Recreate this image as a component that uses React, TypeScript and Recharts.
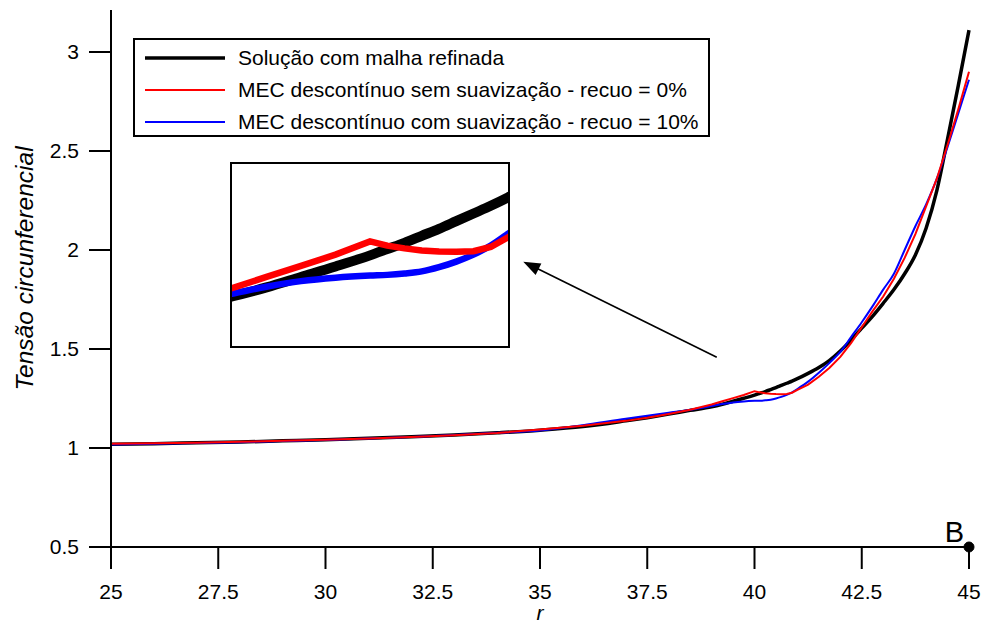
import React from 'react';
import { LineChart, Line, XAxis, YAxis, ReferenceDot, ReferenceLine, Legend } from 'recharts';

// ---------------- data ----------------
const rValues = [
  25, 26, 27, 28, 29, 30, 31, 32, 33, 34, 35, 36, 37, 37.5, 38, 38.5,
  39, 39.25, 39.5, 39.75, 40, 40.125, 40.25, 40.375, 40.5, 40.625, 40.75, 40.875, 41, 41.25, 41.5, 41.75,
  42, 42.25, 42.5, 42.75, 43, 43.25, 43.5, 43.75, 44, 44.25, 44.5, 44.75, 45,
];

const solucaoRefinada = [
  1.019, 1.022, 1.026, 1.030, 1.036, 1.042, 1.049, 1.057, 1.066, 1.077, 1.090, 1.108, 1.137, 1.153, 1.171, 1.190,
  1.208, 1.221, 1.236, 1.251, 1.267, 1.276, 1.285, 1.295, 1.305, 1.316, 1.327, 1.338, 1.350, 1.377, 1.407, 1.443,
  1.490, 1.545, 1.605, 1.665, 1.731, 1.800, 1.880, 1.975, 2.110, 2.300, 2.560, 2.830, 3.110,
];

const semSuavizacao = [
  1.022, 1.024, 1.027, 1.031, 1.036, 1.042, 1.048, 1.055, 1.064, 1.076, 1.093, 1.112, 1.137, 1.153, 1.172, 1.193,
  1.220, 1.236, 1.252, 1.268, 1.287, 1.281, 1.277, 1.274, 1.2725, 1.272, 1.273, 1.279, 1.293, 1.320, 1.360, 1.405,
  1.460, 1.530, 1.610, 1.690, 1.765, 1.855, 1.960, 2.080, 2.220, 2.360, 2.530, 2.710, 2.900,
];

const comSuavizacao = [
  1.018, 1.021, 1.025, 1.029, 1.035, 1.041, 1.048, 1.056, 1.066, 1.077, 1.088, 1.115, 1.148, 1.163, 1.178, 1.193,
  1.212, 1.222, 1.230, 1.235, 1.238, 1.239, 1.241, 1.244, 1.250, 1.258, 1.268, 1.281, 1.298, 1.335, 1.380, 1.430,
  1.485, 1.560, 1.635, 1.715, 1.800, 1.880, 2.000, 2.120, 2.230, 2.360, 2.520, 2.690, 2.860,
];

const xTicks = [25, 27.5, 30, 32.5, 35, 37.5, 40, 42.5, 45];
const yTicks = [0.5, 1, 1.5, 2, 2.5, 3];

const xDomain: [number, number] = [25, 45];
const yDomain: [number, number] = [0.5, 3.212];

// zoomed inset window (data coordinates)
const insetXDomain: [number, number] = [39, 41];
const insetYDomain: [number, number] = [1.137, 1.398];

// annotation positions (data coordinates)
const arrowFrom = { r: 39.12, v: 1.458 };
const arrowTo = { r: 34.61, v: 1.941 };
const pointB = { r: 45, v: 0.5, label: 'B' };

const xLabel = 'r';
const yLabel = 'Tensão circunferencial';

const data = rValues.map((r, i) => ({
  r,
  refinada: solucaoRefinada[i],
  sem: semSuavizacao[i],
  com: comSuavizacao[i],
}));

const seriesInfo = [
  { key: 'refinada', name: 'Solução com malha refinada', color: '#000000', width: 3.5, insetWidth: 10, type: 'monotone' },
  { key: 'sem', name: 'MEC descontínuo sem suavização - recuo = 0%', color: '#ff0000', width: 2, insetWidth: 6.5, type: 'linear' },
  { key: 'com', name: 'MEC descontínuo com suavização - recuo = 10%', color: '#0000ff', width: 2, insetWidth: 6.5, type: 'monotone' },
];
const drawOrder = ['refinada', 'com', 'sem'];

const FONT = '"Liberation Sans", Arial, Helvetica, sans-serif';
const FS = 21;

const renderLegend = () => (
  <div
    style={{
      boxSizing: 'border-box',
      width: 577,
      height: 99,
      border: '2px solid #000',
      background: '#fff',
      fontFamily: FONT,
      fontSize: FS,
      color: '#000',
      paddingTop: 2,
    }}
  >
    {seriesInfo.map((s) => (
      <div key={s.key} style={{ height: 32, display: 'flex', alignItems: 'center' }}>
        <svg width={103} height={32} style={{ flex: 'none' }}>
          <line x1={10} x2={90} y1={16} y2={16} stroke={s.color} strokeWidth={s.key === 'refinada' ? 3.5 : 2} />
        </svg>
        <span style={{ whiteSpace: 'nowrap', lineHeight: '32px' }}>{s.name}</span>
      </div>
    ))}
  </div>
);

const arrowShape = (props: any) => {
  const { x1, y1, x2, y2 } = props;
  const dx = x2 - x1;
  const dy = y2 - y1;
  const len = Math.sqrt(dx * dx + dy * dy) || 1;
  const ux = dx / len;
  const uy = dy / len;
  const headL = 17;
  const headW = 6.5;
  const bx = x2 - ux * headL;
  const by = y2 - uy * headL;
  const p1 = `${x2},${y2}`;
  const p2 = `${bx - uy * headW},${by + ux * headW}`;
  const p3 = `${bx + uy * headW},${by - ux * headW}`;
  return (
    <g>
      <line x1={x1} y1={y1} x2={bx + ux * 2} y2={by + uy * 2} stroke="#000" strokeWidth={1.6} />
      <polygon points={`${p1} ${p2} ${p3}`} fill="#000" />
    </g>
  );
};

const yAxisLabel = (props: any) => {
  const vb = props.viewBox || {};
  const x = vb.x + 22;
  const y = vb.y + vb.height / 2 - 10;
  return (
    <text
      x={x}
      y={y}
      transform={`rotate(-90, ${x}, ${y})`}
      textAnchor="middle"
      fontFamily={FONT}
      fontSize={24.5}
      fontStyle="italic"
      fill="#000"
    >
      {yLabel}
    </text>
  );
};

const xAxisLabel = (props: any) => {
  const vb = props.viewBox || {};
  const x = vb.x + vb.width / 2;
  const y = vb.y + 73;
  return (
    <text x={x} y={y} textAnchor="middle" fontFamily={FONT} fontSize={FS} fontStyle="italic" fill="#000">
      {xLabel}
    </text>
  );
};

const bLabel = (props: any) => {
  const vb = props.viewBox || {};
  const cx = vb.x + vb.width / 2;
  const cy = vb.y + vb.height / 2;
  return (
    <text x={cx - 5} y={cy - 5} textAnchor="end" fontFamily={FONT} fontSize={29} fill="#000">
      {pointB.label}
    </text>
  );
};

const tickStyle = { fill: '#000', fontSize: FS, fontFamily: FONT };

export default function App() {
  return (
    <div style={{ position: 'absolute', left: 0, top: 0, width: 985, height: 628, background: '#fff' }}>
      <LineChart width={985} height={628} data={data} margin={{ top: 10, right: 16, bottom: 21, left: 11 }}>
        <XAxis
          dataKey="r"
          type="number"
          domain={xDomain}
          ticks={xTicks}
          interval={0}
          height={60}
          tickSize={22}
          tickMargin={15}
          axisLine={{ stroke: '#000', strokeWidth: 2 }}
          tickLine={{ stroke: '#000', strokeWidth: 2 }}
          tick={tickStyle}
          label={xAxisLabel}
        />
        <XAxis
          xAxisId="top"
          orientation="top"
          dataKey="r"
          type="number"
          domain={xDomain}
          height={0}
          tick={false}
          tickLine={false}
          axisLine={{ stroke: '#000', strokeWidth: 2 }}
        />
        <YAxis
          type="number"
          domain={yDomain}
          ticks={yTicks}
          interval={0}
          width={100}
          tickSize={22}
          tickMargin={10}
          axisLine={{ stroke: '#000', strokeWidth: 2 }}
          tickLine={{ stroke: '#000', strokeWidth: 2 }}
          tick={tickStyle}
          allowDataOverflow
          label={yAxisLabel}
        />
        <YAxis
          yAxisId="right"
          orientation="right"
          type="number"
          domain={yDomain}
          width={0}
          tick={false}
          tickLine={false}
          axisLine={{ stroke: '#000', strokeWidth: 2 }}
        />
        <Legend
          layout="horizontal"
          verticalAlign="middle"
          align="center"
          wrapperStyle={{ left: 133, top: 38, width: 577, height: 99 }}
          content={renderLegend}
        />
        {drawOrder.map((k) => {
          const s = seriesInfo.find((q) => q.key === k)!;
          return (
            <Line
              key={k}
              dataKey={k}
              name={s.name}
              type={s.type as any}
              stroke={s.color}
              strokeWidth={s.width}
              dot={false}
              activeDot={false}
              isAnimationActive={false}
            />
          );
        })}
        <ReferenceLine
          segment={[
            { x: arrowFrom.r, y: arrowFrom.v },
            { x: arrowTo.r, y: arrowTo.v },
          ]}
          stroke="#000"
          shape={arrowShape}
          ifOverflow="visible"
        />
        <ReferenceDot x={pointB.r} y={pointB.v} r={5} fill="#000" stroke="#000" ifOverflow="visible" label={bLabel} />
      </LineChart>

      <div
        style={{
          position: 'absolute',
          left: 230,
          top: 162,
          width: 276,
          height: 182,
          border: '2.5px solid #000',
          background: '#fff',
        }}
      >
        <LineChart width={276} height={182} data={data} margin={{ top: 0, right: 0, bottom: 0, left: 0 }}>
          <XAxis dataKey="r" type="number" domain={insetXDomain} allowDataOverflow hide />
          <YAxis type="number" domain={insetYDomain} allowDataOverflow hide />
          {drawOrder.map((k) => {
            const s = seriesInfo.find((q) => q.key === k)!;
            return (
              <Line
                key={k}
                dataKey={k}
                type={s.type as any}
                stroke={s.color}
                strokeWidth={s.insetWidth}
                dot={false}
                activeDot={false}
                isAnimationActive={false}
              />
            );
          })}
        </LineChart>
      </div>
    </div>
  );
}
